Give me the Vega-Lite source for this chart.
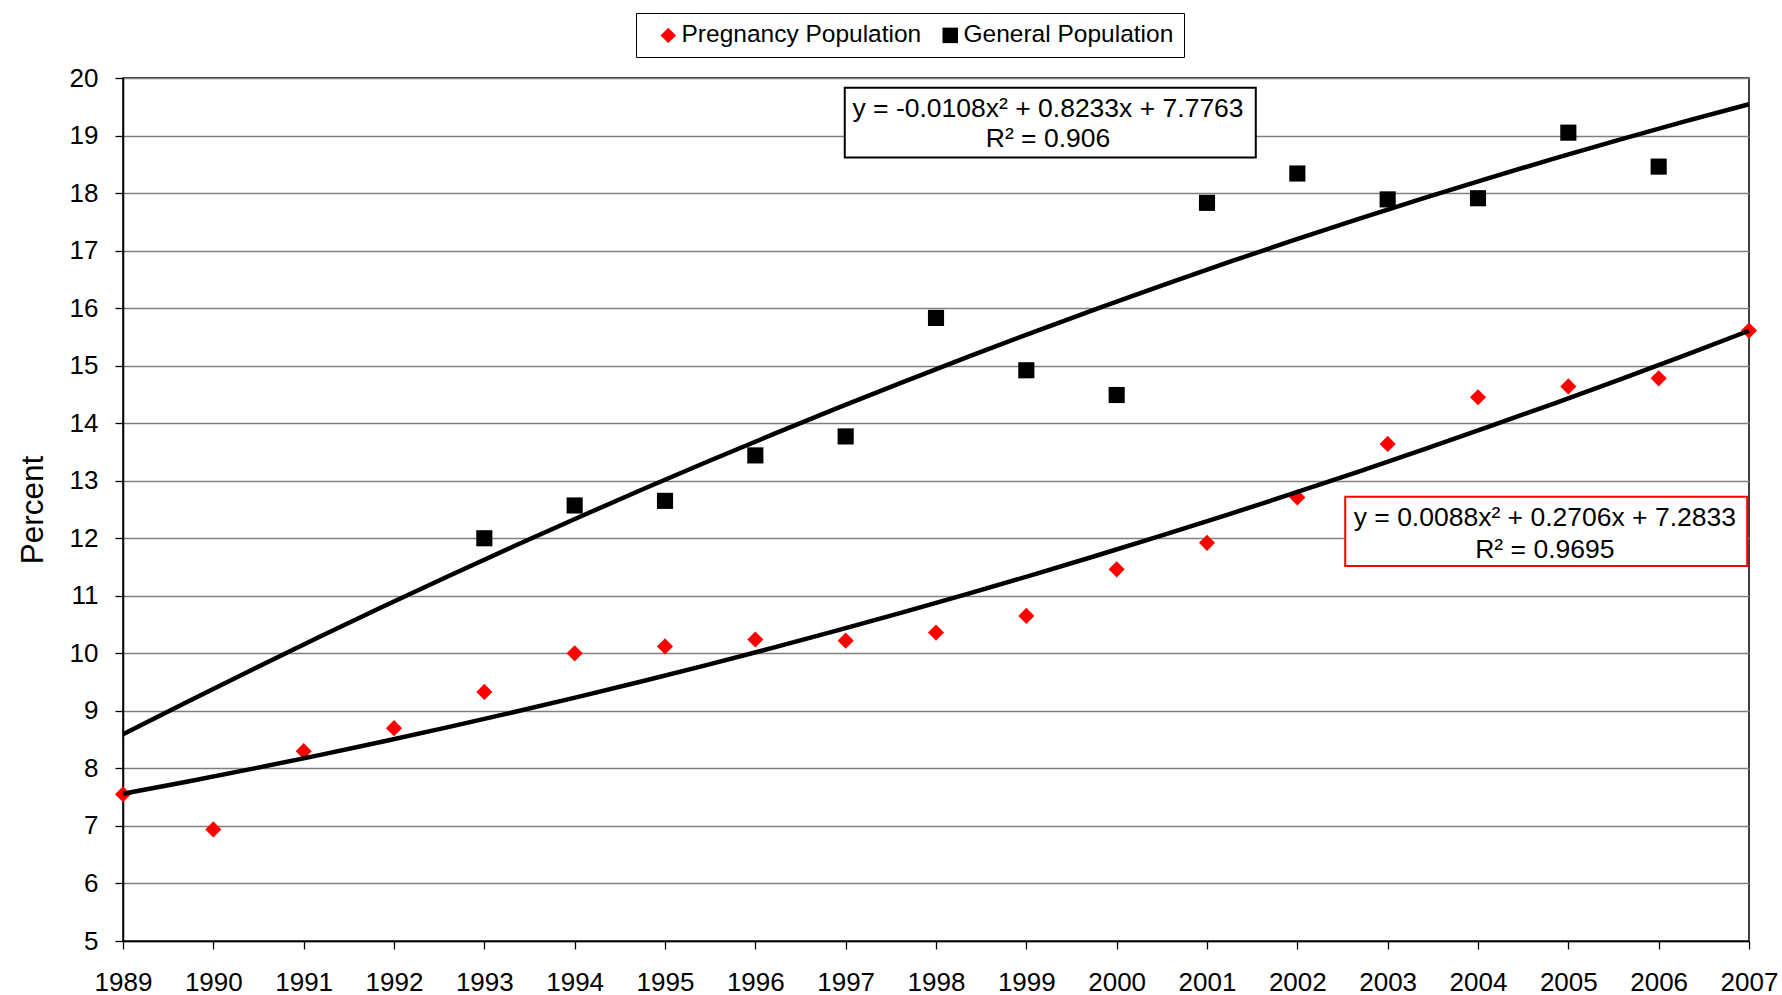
{
  "$schema": "https://vega.github.io/schema/vega-lite/v6.json",
  "width": 1626,
  "height": 863,
  "autosize": {"type": "none"},
  "padding": {"left": 123, "top": 78, "right": 33, "bottom": 54},
  "background": "white",
  "config": {
    "font": "Liberation Sans",
    "view": {"stroke": "black", "strokeWidth": 1.5},
    "axis": {
      "domainColor": "black",
      "domainWidth": 1.5,
      "tickColor": "black",
      "tickWidth": 1.3,
      "tickSize": 8,
      "labelColor": "black",
      "labelFontSize": 25,
      "labelFont": "Liberation Sans",
      "titleFont": "Liberation Sans",
      "titleColor": "black",
      "titleFontWeight": "normal"
    }
  },
  "datasets": {
    "points": [
      {"year": 1989, "series": "Pregnancy Population", "value": 7.55},
      {"year": 1990, "series": "Pregnancy Population", "value": 6.94},
      {"year": 1991, "series": "Pregnancy Population", "value": 8.3},
      {"year": 1992, "series": "Pregnancy Population", "value": 8.7},
      {"year": 1993, "series": "Pregnancy Population", "value": 9.33},
      {"year": 1994, "series": "Pregnancy Population", "value": 10.0},
      {"year": 1995, "series": "Pregnancy Population", "value": 10.12},
      {"year": 1996, "series": "Pregnancy Population", "value": 10.24},
      {"year": 1997, "series": "Pregnancy Population", "value": 10.22},
      {"year": 1998, "series": "Pregnancy Population", "value": 10.36},
      {"year": 1999, "series": "Pregnancy Population", "value": 10.65},
      {"year": 2000, "series": "Pregnancy Population", "value": 11.46},
      {"year": 2001, "series": "Pregnancy Population", "value": 11.92},
      {"year": 2002, "series": "Pregnancy Population", "value": 12.71},
      {"year": 2003, "series": "Pregnancy Population", "value": 13.64},
      {"year": 2004, "series": "Pregnancy Population", "value": 14.45},
      {"year": 2005, "series": "Pregnancy Population", "value": 14.64},
      {"year": 2006, "series": "Pregnancy Population", "value": 14.78},
      {"year": 2007, "series": "Pregnancy Population", "value": 15.61},
      {"year": 1993, "series": "General Population", "value": 12.0},
      {"year": 1994, "series": "General Population", "value": 12.57},
      {"year": 1995, "series": "General Population", "value": 12.65},
      {"year": 1996, "series": "General Population", "value": 13.44},
      {"year": 1997, "series": "General Population", "value": 13.77},
      {"year": 1998, "series": "General Population", "value": 15.83},
      {"year": 1999, "series": "General Population", "value": 14.92},
      {"year": 2000, "series": "General Population", "value": 14.49},
      {"year": 2001, "series": "General Population", "value": 17.83},
      {"year": 2002, "series": "General Population", "value": 18.34},
      {"year": 2003, "series": "General Population", "value": 17.89},
      {"year": 2004, "series": "General Population", "value": 17.91},
      {"year": 2005, "series": "General Population", "value": 19.05},
      {"year": 2006, "series": "General Population", "value": 18.46}
    ]
  },
  "layer": [
    {
      "data": {"name": "points"},
      "mark": {"type": "point", "filled": true, "opacity": 1, "size": 260, "clip": false},
      "encoding": {
        "x": {
          "field": "year",
          "type": "quantitative",
          "scale": {"domain": [1989, 2007], "nice": false, "zero": false},
          "axis": {
            "values": [1989, 1990, 1991, 1992, 1993, 1994, 1995, 1996, 1997, 1998, 1999, 2000, 2001, 2002, 2003, 2004, 2005, 2006, 2007],
            "format": "d",
            "grid": false,
            "title": null,
            "labelPadding": 20,
            "labelFontSize": 26,
            "labelFlush": false,
            "labelOverlap": false
          }
        },
        "y": {
          "field": "value",
          "type": "quantitative",
          "scale": {"domain": [5, 20], "nice": false, "zero": false},
          "axis": {
            "values": [5, 6, 7, 8, 9, 10, 11, 12, 13, 14, 15, 16, 17, 18, 19, 20],
            "format": "d",
            "grid": true,
            "gridColor": "#808080",
            "gridWidth": 1.3,
            "title": "Percent",
            "titleFontSize": 31.5,
            "titlePadding": 20,
            "labelPadding": 17,
            "labelFontSize": 26,
            "labelFlush": false
          }
        },
        "color": {
          "field": "series",
          "type": "nominal",
          "scale": {"domain": ["Pregnancy Population", "General Population"], "range": ["#ff0000", "#000000"]},
          "legend": {
            "orient": "none",
            "legendX": 513,
            "legendY": -65,
            "direction": "horizontal",
            "title": null,
            "strokeColor": "black",
            "fillColor": "white",
            "padding": 10,
            "labelFontSize": 24.5,
            "labelColor": "black",
            "labelFont": "Liberation Sans",
            "symbolSize": 240,
            "symbolOffset": 10,
            "columnPadding": 6,
            "labelOffset": 1,
            "labelLimit": 400
          }
        },
        "shape": {
          "field": "series",
          "type": "nominal",
          "scale": {"domain": ["Pregnancy Population", "General Population"], "range": ["diamond", "square"]},
          "legend": {
            "orient": "none",
            "legendX": 513,
            "legendY": -65,
            "direction": "horizontal",
            "title": null,
            "strokeColor": "black",
            "fillColor": "white",
            "padding": 10,
            "labelFontSize": 24.5,
            "labelColor": "black",
            "labelFont": "Liberation Sans",
            "symbolSize": 240,
            "symbolOffset": 10,
            "columnPadding": 6,
            "labelOffset": 1,
            "labelLimit": 400
          }
        }
      }
    },
    {
      "data": {"name": "points"},
      "transform": [
        {"regression": "value", "on": "year", "groupby": ["series"], "method": "poly", "order": 2, "extent": [1989, 2007]}
      ],
      "mark": {"type": "line", "color": "black", "strokeWidth": 4.5},
      "encoding": {
        "x": {"field": "year", "type": "quantitative"},
        "y": {"field": "value", "type": "quantitative"},
        "detail": {"field": "series", "type": "nominal"}
      }
    },
    {
      "data": {"values": [{"x1": 1996.99, "x2": 2001.54, "y1": 18.62, "y2": 19.83}]},
      "mark": {"type": "rect", "fill": "white", "stroke": "black", "strokeWidth": 2},
      "encoding": {
        "x": {"field": "x1", "type": "quantitative"},
        "x2": {"field": "x2"},
        "y": {"field": "y1", "type": "quantitative"},
        "y2": {"field": "y2"}
      }
    },
    {
      "data": {"values": [{"x1": 2002.53, "x2": 2006.98, "y1": 11.52, "y2": 12.72}]},
      "mark": {"type": "rect", "fill": "white", "stroke": "#ff0000", "strokeWidth": 2},
      "encoding": {
        "x": {"field": "x1", "type": "quantitative"},
        "x2": {"field": "x2"},
        "y": {"field": "y1", "type": "quantitative"},
        "y2": {"field": "y2"}
      }
    },
    {
      "data": {
        "values": [
          {"tx": 1999.24, "ty": 19.32, "label": "y = -0.0108x² + 0.8233x + 7.7763"},
          {"tx": 1999.24, "ty": 18.8, "label": "R² = 0.906"},
          {"tx": 2004.74, "ty": 12.21, "label": "y = 0.0088x² + 0.2706x + 7.2833"},
          {"tx": 2004.74, "ty": 11.66, "label": "R² = 0.9695"}
        ]
      },
      "mark": {"type": "text", "fontSize": 26.5, "align": "center", "baseline": "alphabetic", "color": "black", "font": "Liberation Sans"},
      "encoding": {
        "x": {"field": "tx", "type": "quantitative"},
        "y": {"field": "ty", "type": "quantitative"},
        "text": {"field": "label"}
      }
    }
  ]
}
